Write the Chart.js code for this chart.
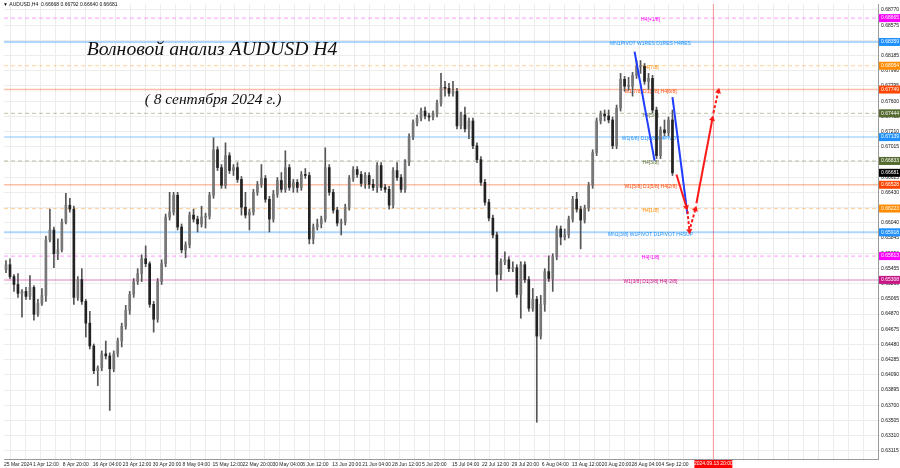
<!DOCTYPE html>
<html>
<head>
<meta charset="utf-8">
<script src="https://cdn.jsdelivr.net/npm/chart.js@4.4.1/dist/chart.umd.min.js"></script>
<style>
  html, body { margin: 0; padding: 0; background: #fff; }
  #wrap { width: 900px; height: 468px; position: relative; }
</style>
</head>
<body>
<div id="wrap"><canvas id="chart"></canvas></div>
<script>
// AUDUSD H4, 25 Mar - 6 Sep 2024. One candle here stands for about four H4 bars.
const firstOpen = 0.65439;
const closes = [
  0.65503, 0.65350, 0.65249, 0.65135, 0.65160, 0.65096, 0.65211, 0.64867, 0.65007, 0.65109,
  0.65820, 0.65948, 0.65643, 0.65693, 0.66050, 0.66266, 0.66215, 0.65084, 0.65312, 0.65032,
  0.64753, 0.64460, 0.64143, 0.64181, 0.64359, 0.64333, 0.64168, 0.64359, 0.64524, 0.64714,
  0.64918, 0.65122, 0.65287, 0.65389, 0.65579, 0.65516, 0.64994, 0.64803, 0.65287, 0.65516,
  0.66113, 0.66177, 0.66393, 0.65986, 0.65693, 0.65757, 0.66139, 0.66088, 0.66025, 0.66113,
  0.66126, 0.66393, 0.66977, 0.66748, 0.66520, 0.66901, 0.66710, 0.66748, 0.66596, 0.66240,
  0.66139, 0.66177, 0.66431, 0.66533, 0.66609, 0.66342, 0.66088, 0.66406, 0.66583, 0.66469,
  0.66748, 0.66494, 0.66558, 0.66494, 0.66660, 0.66647, 0.65833, 0.65986, 0.66025, 0.66088,
  0.66748, 0.66431, 0.66202, 0.66037, 0.66050, 0.66240, 0.66609, 0.66723, 0.66660, 0.66545,
  0.66647, 0.66533, 0.66494, 0.66774, 0.66494, 0.66469, 0.66266, 0.66710, 0.66621, 0.66469,
  0.66812, 0.67143, 0.67321, 0.67384, 0.67473, 0.67410, 0.67397, 0.67435, 0.67575, 0.67778,
  0.67765, 0.67702, 0.67727, 0.67283, 0.67423, 0.67245, 0.67346, 0.67028, 0.66850, 0.66558,
  0.66304, 0.66101, 0.65884, 0.65376, 0.65541, 0.65566, 0.65452, 0.65465, 0.65122, 0.65503,
  0.65312, 0.64943, 0.65058, 0.64587, 0.64994, 0.65414, 0.65325, 0.65604, 0.65961, 0.65858,
  0.65884, 0.66088, 0.66342, 0.66215, 0.66075, 0.66228, 0.66520, 0.66939, 0.67346, 0.67435,
  0.67410, 0.67359, 0.67028, 0.67511, 0.67880, 0.67791, 0.67791, 0.67931, 0.68045, 0.68045,
  0.67854, 0.67892, 0.67486, 0.66901, 0.67232, 0.67194, 0.67359, 0.66681
];
const highs = [
  0.65554, 0.65579, 0.65376, 0.65389, 0.65185, 0.65211, 0.65363, 0.65236, 0.65058, 0.65198,
  0.65871, 0.66215, 0.65986, 0.65833, 0.66088, 0.66418, 0.66355, 0.66253, 0.65350, 0.65452,
  0.65058, 0.64905, 0.64486, 0.64206, 0.64397, 0.64524, 0.64372, 0.64397, 0.64562, 0.64753,
  0.64981, 0.65160, 0.65325, 0.65452, 0.65630, 0.65744, 0.65541, 0.65032, 0.65325, 0.65566,
  0.66152, 0.66431, 0.66431, 0.66431, 0.66025, 0.65795, 0.66177, 0.66215, 0.66126, 0.66253,
  0.66164, 0.66431, 0.67130, 0.67015, 0.66787, 0.67066, 0.66939, 0.66787, 0.66812, 0.66634,
  0.66431, 0.66215, 0.66469, 0.66571, 0.66787, 0.66647, 0.66380, 0.66456, 0.66621, 0.66685,
  0.66964, 0.66787, 0.66596, 0.66596, 0.66698, 0.66736, 0.66685, 0.66025, 0.66088, 0.66126,
  0.67002, 0.66787, 0.66469, 0.66240, 0.66088, 0.66279, 0.66647, 0.66761, 0.66761, 0.66698,
  0.66685, 0.66685, 0.66596, 0.66812, 0.66812, 0.66533, 0.66507, 0.66748, 0.66812, 0.66660,
  0.66850, 0.67181, 0.67359, 0.67423, 0.67511, 0.67524, 0.67448, 0.67473, 0.67613, 0.67956,
  0.67854, 0.67829, 0.67854, 0.67765, 0.67461, 0.67524, 0.67384, 0.67384, 0.67066, 0.66888,
  0.66596, 0.66342, 0.66139, 0.65922, 0.65579, 0.65668, 0.65604, 0.65541, 0.65503, 0.65541,
  0.65541, 0.65350, 0.65198, 0.65096, 0.65109, 0.65452, 0.65617, 0.65643, 0.65999, 0.65999,
  0.65961, 0.66126, 0.66380, 0.66431, 0.66253, 0.66266, 0.66558, 0.66977, 0.67384, 0.67473,
  0.67486, 0.67486, 0.67397, 0.67550, 0.67956, 0.67918, 0.67905, 0.67969, 0.68121, 0.68121,
  0.68083, 0.67956, 0.67931, 0.67524, 0.67270, 0.67359, 0.67397, 0.67486
];
const lows = [
  0.65401, 0.65325, 0.65160, 0.65084, 0.64829, 0.65058, 0.65058, 0.64791, 0.64841, 0.64981,
  0.65032, 0.65795, 0.65465, 0.65566, 0.65668, 0.66025, 0.66177, 0.64994, 0.65046, 0.64994,
  0.64575, 0.64422, 0.64105, 0.63952, 0.64143, 0.64295, 0.63634, 0.64130, 0.64321, 0.64448,
  0.64676, 0.64867, 0.65084, 0.65249, 0.65287, 0.65477, 0.64956, 0.64638, 0.64765, 0.65249,
  0.65477, 0.66075, 0.66139, 0.65948, 0.65655, 0.65592, 0.65719, 0.66050, 0.65922, 0.65986,
  0.65974, 0.66088, 0.66355, 0.66710, 0.66482, 0.66482, 0.66672, 0.66647, 0.66558, 0.66139,
  0.66101, 0.65948, 0.66139, 0.66393, 0.66494, 0.66304, 0.65922, 0.66050, 0.66367, 0.66431,
  0.66431, 0.66456, 0.66431, 0.66431, 0.66456, 0.66609, 0.65770, 0.65770, 0.65948, 0.65974,
  0.66050, 0.66393, 0.66164, 0.65999, 0.65884, 0.66012, 0.66202, 0.66571, 0.66621, 0.66507,
  0.66482, 0.66482, 0.66456, 0.66431, 0.66456, 0.66431, 0.66215, 0.66228, 0.66583, 0.66431,
  0.66431, 0.66774, 0.67105, 0.67283, 0.67346, 0.67372, 0.67346, 0.67359, 0.67397, 0.67537,
  0.67664, 0.67664, 0.67664, 0.67245, 0.67245, 0.67207, 0.67118, 0.66990, 0.66812, 0.66520,
  0.66266, 0.66063, 0.65846, 0.65160, 0.65312, 0.65503, 0.65414, 0.65414, 0.65084, 0.64816,
  0.65274, 0.64905, 0.64905, 0.63482, 0.64549, 0.64905, 0.65287, 0.65160, 0.65566, 0.65757,
  0.65820, 0.65846, 0.66050, 0.66177, 0.65706, 0.66037, 0.66190, 0.66482, 0.66901, 0.67308,
  0.67346, 0.67321, 0.66990, 0.66990, 0.67473, 0.67727, 0.67740, 0.67664, 0.67892, 0.67956,
  0.67816, 0.67753, 0.67448, 0.66863, 0.66863, 0.67156, 0.67156, 0.66647
];

const priceTicks = [
  0.68770, 0.68575, 0.68380, 0.68185, 0.67990, 0.67795, 0.67600, 0.67405, 0.67210, 0.67015,
  0.66820, 0.66625, 0.66430, 0.66235, 0.66040, 0.65845, 0.65650, 0.65455, 0.65260, 0.65065,
  0.64870, 0.64675, 0.64480, 0.64285, 0.64090, 0.63895, 0.63700, 0.63505, 0.63310, 0.63115
];
const timeLabels = [
  '25 Mar 2024', '1 Apr 12:00', '8 Apr 20:00', '16 Apr 04:00', '23 Apr 12:00', '30 Apr 20:00',
  '8 May 04:00', '15 May 12:00', '22 May 20:00', '30 May 04:00', '6 Jun 12:00', '13 Jun 20:00',
  '21 Jun 04:00', '28 Jun 12:00', '5 Jul 20:00', '15 Jul 04:00', '22 Jul 12:00', '29 Jul 20:00',
  '6 Aug 04:00', '13 Aug 12:00', '20 Aug 20:00', '28 Aug 04:00', '4 Sep 12:00'
];

// Murrey levels for H4 / D1 / W1 / MN1
const levelPrices = [0.68665, 0.68359, 0.68054, 0.67749, 0.67444, 0.67139, 0.66833,
                     0.66528, 0.66223, 0.65918, 0.65613, 0.65308];
const levelNames = ['H4[+1/8]', 'MN1PIVOT W1RES D1RES H4RES', 'H4[7/8]', 'W1[7/8] D1[7/8] H4[6/8]',
                    'H4[5/8]', 'W1[6/8] D1[6/8] H4PIVOT', 'H4[3/8]', 'W1[5/8] D1[5/8] H4[2/8]',
                    'H4[1/8]', 'MN1[3/8] W1PIVOT D1PIVOT H4SUP', 'H4[-1/8]', 'W1[3/8] D1[3/8] H4[-2/8]'];
const levelColors = ['#ff00ff', '#1e90ff', '#ff8c00', '#ff4500', '#556b2f', '#1e90ff', '#556b2f',
                     '#ff4500', '#ff8c00', '#1e90ff', '#ff00ff', '#c71585'];
const levelDashed = [true, false, true, false, true, false, true, false, true, false, true, false];
const levelWidths = [1, 2, 1, 1.5, 1, 1.5, 1, 1.5, 1, 2, 1, 1.5];

const lastPrice = 0.66681;
const futureTime = 177.25;
const futureLabel = '2024.09.13 20:00';

// wave marks, x in candle units
const blueWaveX = [[157.5, 162.5], [167, 170.75]];
const blueWaveY = [[0.68236, 0.66837], [0.67651, 0.66152]];
const redWaveX = [[168, 170.5], [170.75, 171.25], [171.5, 172.75], [173, 177], [177.25, 178.5]];
const redWaveY = [[0.66660, 0.66240], [0.66190, 0.65936], [0.65986, 0.66215], [0.66291, 0.67372], [0.67448, 0.67727]];
const redWaveDashed = [false, true, true, false, true];

const X_MIN = -0.5, X_MAX = 218.5;
const Y_MIN = 0.63011, Y_MAX = 0.68846;
const labelAt = 161.5;

function rgba(hex, a) {
  const n = parseInt(hex.slice(1), 16);
  return 'rgba(' + (n >> 16) + ',' + ((n >> 8) & 255) + ',' + (n & 255) + ',' + a + ')';
}

function arrowRotation(ctx) {
  const d = ctx.dataset.data, s = ctx.chart.scales;
  const dx = s.x.getPixelForValue(d[1].x) - s.x.getPixelForValue(d[0].x);
  const dy = s.y.getPixelForValue(d[1].y) - s.y.getPixelForValue(d[0].y);
  return Math.atan2(dx, -dy) * 180 / Math.PI;
}

const opens = closes.map((c, i) => i === 0 ? firstOpen : closes[i - 1]);
const candleColors = closes.map((c, i) => c >= opens[i] ? '#777777' : '#222222');

const datasets = [];

levelPrices.forEach((p, i) => {
  datasets.push({
    type: 'line',
    data: [{x: X_MIN, y: p}, {x: X_MAX, y: p}],
    borderColor: rgba(levelColors[i], levelDashed[i] ? 0.4 : 0.35),
    borderWidth: levelWidths[i],
    borderDash: levelDashed[i] ? [4, 3] : [],
    pointRadius: 0,
    order: 20
  });
});

datasets.push({
  type: 'line',
  data: [{x: futureTime, y: Y_MIN}, {x: futureTime, y: Y_MAX}],
  borderColor: 'rgba(255,40,40,0.45)',
  borderWidth: 1,
  pointRadius: 0,
  order: 19
});

datasets.push({
  type: 'bar',
  data: closes.map((c, i) => ({x: i, y: [lows[i], highs[i]]})),
  backgroundColor: '#555',
  barThickness: 1,
  grouped: false,
  order: 6
});
datasets.push({
  type: 'bar',
  data: closes.map((c, i) => ({x: i, y: [opens[i], c]})),
  backgroundColor: candleColors,
  barThickness: 2,
  minBarLength: 1,
  grouped: false,
  order: 5
});

blueWaveX.forEach((xs, i) => {
  datasets.push({
    type: 'line',
    data: [{x: xs[0], y: blueWaveY[i][0]}, {x: xs[1], y: blueWaveY[i][1]}],
    borderColor: '#1f3cff',
    borderWidth: 2,
    pointRadius: 0,
    order: 2
  });
});
redWaveX.forEach((xs, i) => {
  datasets.push({
    type: 'line',
    data: [{x: xs[0], y: redWaveY[i][0]}, {x: xs[1], y: redWaveY[i][1]}],
    borderColor: '#ff1a1a',
    borderWidth: 2,
    borderDash: redWaveDashed[i] ? [3, 2] : [],
    pointRadius: [0, 3.5],
    pointStyle: 'triangle',
    pointRotation: arrowRotation,
    pointBackgroundColor: '#ff1a1a',
    pointBorderWidth: 0,
    order: 1
  });
});

function fitText(ctx, text, cx, cy, width, style, family) {
  ctx.font = style + ' 20px ' + family;
  const size = 20 * width / ctx.measureText(text).width;
  ctx.font = style + ' ' + size.toFixed(1) + 'px ' + family;
  ctx.fillText(text, cx, cy);
}

const overlay = {
  id: 'overlay',
  beforeDatasetsDraw(chart) {
    const {ctx, scales: {x, y}} = chart;
    ctx.save();
    ctx.font = '5px "Liberation Sans"';
    ctx.textAlign = 'center';
    ctx.textBaseline = 'top';
    levelPrices.forEach((p, i) => {
      ctx.fillStyle = levelColors[i];
      ctx.fillText(levelNames[i], x.getPixelForValue(labelAt), y.getPixelForValue(p) - 0.5);
    });
    ctx.restore();
  },
  afterDraw(chart) {
    const {ctx, chartArea, scales: {x, y}} = chart;
    ctx.save();
    ctx.fillStyle = '#111';
    ctx.textAlign = 'left';
    ctx.textBaseline = 'middle';
    ctx.font = '5px "Liberation Sans"';
    ctx.fillText('\u25BC AUDUSD,H4  0.66668 0.66792 0.66640 0.66681', 3, 5);

    ctx.textAlign = 'center';
    fitText(ctx, 'Волновой анализ AUDUSD H4', 212, 50, 251, 'italic', '"Liberation Serif"');
    fitText(ctx, '( 8 сентября 2024 г.)', 213, 100, 137, 'italic', '"Liberation Serif"');

    // price boxes on the right axis
    ctx.font = '5px "Liberation Sans"';
    ctx.textAlign = 'left';
    const boxes = levelPrices.map((p, i) => [p, levelColors[i]]).concat([[lastPrice, '#000000']]);
    boxes.forEach(([p, c]) => {
      const py = y.getPixelForValue(p);
      ctx.fillStyle = c;
      ctx.fillRect(chartArea.right + 1, py - 4, 21, 8);
      ctx.fillStyle = '#fff';
      ctx.fillText(p.toFixed(5), chartArea.right + 3, py);
    });

    // future time box
    const fx = x.getPixelForValue(futureTime);
    ctx.fillStyle = '#ff0000';
    ctx.fillRect(fx - 19, chartArea.bottom + 1, 38, 8);
    ctx.fillStyle = '#fff';
    ctx.textAlign = 'center';
    ctx.fillText(futureLabel, fx, chartArea.bottom + 5);
    ctx.restore();
  }
};

const tickFont = {family: 'Liberation Sans', size: 5};

new Chart(document.getElementById('chart'), {
  type: 'bar',
  data: {datasets: datasets},
  plugins: [overlay],
  options: {
    responsive: true,
    maintainAspectRatio: false,
    devicePixelRatio: 1,
    animation: false,
    events: [],
    layout: {padding: {left: 2, right: 0, top: 0, bottom: 0}},
    plugins: {legend: {display: false}, tooltip: {enabled: false}},
    elements: {line: {tension: 0}},
    scales: {
      x: {
        type: 'linear',
        min: X_MIN,
        max: X_MAX,
        offset: false,
        afterBuildTicks(scale) {
          const t = [{value: X_MIN}];
          for (let v = 3.0; v < X_MAX; v += 3.75) t.push({value: v});
          scale.ticks = t;
        },
        afterFit(scale) {
          scale.height = 9;
          scale.paddingLeft = 0;
          scale.paddingRight = 0;
        },
        ticks: {
          autoSkip: false,
          maxRotation: 0,
          minRotation: 0,
          align: 'start',
          padding: 1,
          color: '#222',
          font: tickFont,
          callback(value, index) {
            if (index === 0) return timeLabels[0];
            const k = (value - 6.75) / 7.5;
            const r = Math.round(k);
            if (Math.abs(k - r) < 0.01 && r + 1 < timeLabels.length) return timeLabels[r + 1];
            return '';
          }
        },
        grid: {color: ctx => ctx.index === 0 ? '#9a9a9a' : '#ececec', tickLength: 2},
        border: {color: '#9a9a9a'}
      },
      y: {
        position: 'right',
        min: Y_MIN,
        max: Y_MAX,
        afterBuildTicks(scale) {
          scale.ticks = priceTicks.map(v => ({value: v}));
        },
        afterFit(scale) {
          scale.width = 22;
          scale.paddingTop = 0;
          scale.paddingBottom = 0;
        },
        ticks: {
          padding: 1,
          color: '#111',
          font: tickFont,
          callback: v => v.toFixed(5)
        },
        grid: {color: '#ececec', tickLength: 2},
        border: {color: '#9a9a9a'}
      }
    }
  }
});
</script>
</body>
</html>
